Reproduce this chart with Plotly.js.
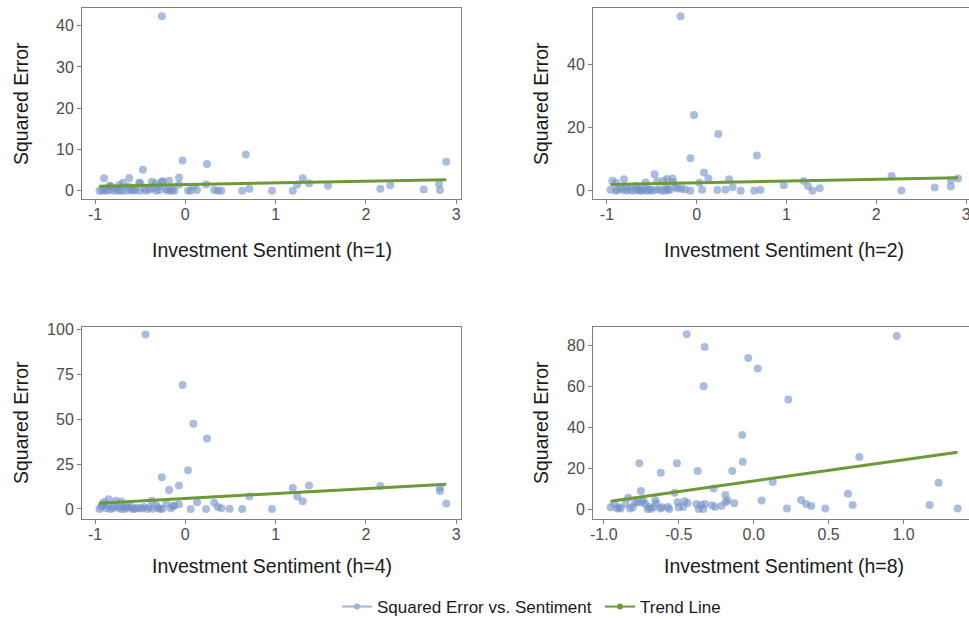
<!DOCTYPE html>
<html>
<head>
<meta charset="utf-8">
<script src="https://cdn.plot.ly/plotly-3.0.1.min.js"></script>
<style>
html, body { margin: 0; padding: 0; background: #ffffff; overflow: hidden; }
#chart { width: 976px; height: 630px; }
</style>
</head>
<body>
<div id="chart"></div>
<script>
// ---------------- DATA ----------------
const horizons = ["h=1", "h=2", "h=4", "h=8"];
const seriesName = "Squared Error vs. Sentiment";
const trendName = "Trend Line";

const x1 = [-0.26, -0.90, -0.62, -0.47, -0.03, 0.24, 0.67, 2.89, -0.07, -0.37,
            -0.26, -0.18, -0.50, -0.69, -0.73, -0.84, -0.33, -0.07, 0.23, 1.30,
            1.24, 1.37, 1.58, 2.27, 2.16, 2.64, 2.81, 2.82, 0.71, 0.63,
            0.96, 1.19, 0.32, 0.36, 0.40, 0.13, 0.09, 0.03, 0.06, -0.12,
            -0.16, -0.20, -0.21, -0.29, -0.32, -0.39, -0.43, -0.50, -0.55, -0.59,
            -0.65, -0.70, -0.75, -0.80, -0.88, -0.92, -0.95, -0.78, -0.61, -0.63,
            -0.25, -0.51, -0.83, -0.85, -0.72, -0.57, -0.45, -0.35, -0.28, -0.14,
            -0.90];
const y1 = [42.3, 3.0, 3.1, 5.1, 7.3, 6.5, 8.8, 7.0, 3.2, 2.2,
            2.2, 2.4, 1.8, 1.9, 1.4, 1.1, 1.8, 1.5, 1.5, 3.0,
            1.5, 1.8, 1.2, 1.3, 0.5, 0.3, 1.6, 0.2, 0.5, 0.0,
            0.0, 0.0, 0.2, 0.0, 0.0, 0.2, 1.0, 0.0, 0.0, 0.0,
            0.0, 0.0, 0.4, 1.0, 0.0, 0.3, 0.0, 0.0, 0.1, 0.0,
            0.0, 0.0, 0.0, 0.0, 0.0, 0.0, 0.0, 0.5, 0.4, 1.0,
            2.3, 1.9, 1.2, 0.1, 0.2, 0.3, 0.5, 0.6, 0.2, 0.3,
            0.5];

const x2 = [-0.18, -0.03, 0.24, 0.67, -0.07, -0.47, 0.08, 0.13, 0.36, 2.17,
            2.91, 2.83, 2.83, 2.65, 2.28, 1.19, 1.24, 1.29, 1.37, 0.97,
            0.71, 0.64, 0.49, 0.40, 0.32, 0.23, 0.06, 0.03, -0.07, -0.13,
            -0.17, -0.21, -0.27, -0.33, -0.26, -0.37, -0.44, -0.34, -0.32, -0.35,
            -0.46, -0.57, -0.81, -0.94, -0.90, -0.96, -0.90, -0.85, -0.78, -0.74,
            -0.71, -0.67, -0.63, -0.59, -0.56, -0.52, -0.50, -0.39, -0.68, -0.78,
            -0.88, -0.82, -0.65, -0.61, -0.54, -0.42, -0.30, -0.24];
const y2 = [55.4, 24.0, 18.0, 11.2, 10.3, 5.2, 5.8, 3.9, 3.6, 4.7,
            3.9, 3.3, 1.3, 1.0, 0.1, 3.1, 1.4, 0.0, 0.8, 1.7,
            0.2, 0.0, 0.0, 1.1, 0.3, 0.2, 0.3, 2.5, 0.0, 0.4,
            0.6, 0.7, 3.9, 3.7, 2.7, 3.2, 3.0, 1.3, 0.4, 0.0,
            0.2, 2.6, 3.6, 3.2, 2.5, 0.3, 0.0, 0.7, 0.0, 0.4,
            0.0, 0.2, 0.0, 0.6, 0.0, 0.4, 0.0, 0.0, 1.5, 1.1,
            0.3, 0.2, 0.5, 0.1, 0.3, 0.5, 0.2, 1.0];

const x3 = [-0.44, -0.03, 0.09, 0.24, 0.03, -0.26, -0.18, -0.07, 1.19, 1.37,
            1.24, 1.30, 0.71, 2.16, 2.82, 2.82, 2.89, 0.96, 0.63, 0.49,
            0.40, 0.36, 0.32, 0.23, 0.13, 0.06, -0.07, -0.12, -0.16, -0.21,
            -0.25, -0.32, -0.37, -0.36, -0.42, -0.46, -0.50, -0.54, -0.58, -0.63,
            -0.67, -0.71, -0.77, -0.71, -0.74, -0.80, -0.85, -0.90, -0.83, -0.88,
            -0.93, -0.95, -0.65, -0.60, -0.56, -0.48, -0.40, -0.30, -0.69, -0.78,
            -0.86, -0.92, -0.14, -0.28];
const y3 = [97.0, 68.9, 47.4, 39.1, 21.5, 17.6, 10.6, 13.0, 11.7, 13.0,
            7.0, 4.3, 7.0, 12.8, 11.7, 10.0, 3.0, 0.0, 0.0, 0.2,
            0.4, 1.1, 3.5, 0.0, 3.7, 0.0, 2.6, 2.0, 0.4, 3.0,
            0.2, 1.9, 4.6, 0.2, 0.0, 1.1, 0.4, 0.7, 0.0, 0.7,
            0.0, 4.1, 4.6, 0.0, 0.7, 0.4, 5.4, 3.9, 0.0, 0.4,
            1.3, 0.0, 1.3, 1.2, 0.2, 0.3, 1.0, 0.5, 1.0, 1.5,
            1.8, 2.5, 1.5, 0.0];

const x4 = [-0.447, -0.327, 0.954, -0.036, 0.027, -0.334, 0.231, -0.076, 0.705, -0.073,
            -0.763, -0.512, -0.620, -0.374, -0.143, 0.127, 1.234, 0.629, 0.660, 1.174,
            1.361, 0.478, 0.384, 0.350, 0.316, 0.222, 0.053, -0.189, -0.175, -0.187,
            -0.130, -0.267, -0.215, -0.258, -0.278, -0.325, -0.337, -0.351, -0.366, -0.382,
            -0.441, -0.461, -0.470, -0.500, -0.508, -0.527, -0.563, -0.572, -0.610, -0.622,
            -0.650, -0.657, -0.666, -0.686, -0.697, -0.708, -0.723, -0.736, -0.752, -0.748,
            -0.776, -0.792, -0.807, -0.825, -0.837, -0.854, -0.888, -0.899, -0.910, -0.930,
            -0.954];
const y4 = [85.6, 79.4, 84.8, 74.0, 68.8, 60.1, 53.7, 36.3, 25.5, 23.2,
            22.4, 22.4, 17.8, 18.6, 18.6, 13.2, 12.9, 7.5, 2.0, 2.0,
            0.3, 0.2, 1.5, 2.5, 4.4, 0.3, 4.2, 6.9, 4.2, 3.3,
            2.8, 10.0, 1.5, 1.0, 1.8, 2.5, 0.0, 2.0, 0.0, 2.5,
            2.9, 3.8, 1.0, 0.8, 3.3, 8.0, 0.0, 1.0, 0.8, 0.3,
            2.8, 4.4, 0.8, 0.0, 1.0, 0.0, 2.5, 4.2, 8.8, 3.3,
            3.3, 3.1, 0.8, 0.3, 5.5, 2.6, 0.3, 0.8, 0.3, 2.6,
            0.8];

// trend line end points
const trendX1 = [-0.955, 2.89], trendY1 = [1.07, 2.67];
const trendX2 = [-0.96, 2.91],  trendY2 = [2.0, 4.1];
const trendX3 = [-0.955, 2.89], trendY3 = [3.2, 13.8];
const trendX4 = [-0.955, 1.36], trendY4 = [3.8, 27.8];

// tick values and labels
const xTickVals123 = [-1, 0, 1, 2, 3];
const xTickText123 = ["-1", "0", "1", "2", "3"];
const xTickVals4 = [-1.0, -0.5, 0.0, 0.5, 1.0];
const xTickText4 = ["-1.0", "-0.5", "0.0", "0.5", "1.0"];
const yTickVals1 = [0, 10, 20, 30, 40];
const yTickVals2 = [0, 20, 40];
const yTickVals3 = [0, 25, 50, 75, 100];
const yTickVals4 = [0, 20, 40, 60, 80];

// ---------------- STYLE ----------------
// the figure is slightly larger than the 969x619 window; the overflow is clipped,
// like the cut-off right edge of the reference
const W = 976, H = 630;
const fx = px => px / W;
const fy = py => 1 - py / H;
const FONT = "Liberation Sans, Arial, Helvetica, sans-serif";
const pointColor = "rgba(115,145,200,0.6)";
const legendPointColor = "rgb(155,180,218)";
const trendColor = "#6b9a36";
const axisGray = "#7f7f7f";

function scatterTrace(x, y, xa, ya) {
  return { type: "scatter", mode: "markers", x: x, y: y, xaxis: xa, yaxis: ya,
           marker: { size: 8, color: pointColor, line: { width: 0 } },
           showlegend: false, hoverinfo: "x+y", name: seriesName };
}
function trendTrace(x, y, xa, ya) {
  return { type: "scatter", mode: "lines", x: x, y: y, xaxis: xa, yaxis: ya,
           line: { color: trendColor, width: 3 }, showlegend: false, name: trendName };
}

const data = [
  scatterTrace(x1, y1, "x", "y"),   trendTrace(trendX1, trendY1, "x", "y"),
  scatterTrace(x2, y2, "x2", "y2"), trendTrace(trendX2, trendY2, "x2", "y2"),
  scatterTrace(x3, y3, "x3", "y3"), trendTrace(trendX3, trendY3, "x3", "y3"),
  scatterTrace(x4, y4, "x4", "y4"), trendTrace(trendX4, trendY4, "x4", "y4"),
  { type: "scatter", mode: "lines+markers", x: [null], y: [null], name: seriesName,
    legend: "legend", showlegend: true, xaxis: "x", yaxis: "y",
    line: { color: legendPointColor, width: 2 }, marker: { color: legendPointColor, size: 6 } },
  { type: "scatter", mode: "lines+markers", x: [null], y: [null], name: trendName,
    legend: "legend2", showlegend: true, xaxis: "x", yaxis: "y",
    line: { color: trendColor, width: 2 }, marker: { color: trendColor, size: 6 } }
];

function axis(domain, range, tickvals, ticktext, anchor, standoff) {
  const a = { domain: domain, range: range, anchor: anchor,
    showline: true, mirror: true, linecolor: axisGray, linewidth: 1,
    ticks: "outside", ticklen: 4, tickcolor: axisGray, tickwidth: 1,
    showgrid: false, zeroline: false, fixedrange: true,
    ticklabelstandoff: standoff,
    tickfont: { family: FONT, size: 16, color: "#4d4d4d" },
    tickvals: tickvals };
  if (ticktext) a.ticktext = ticktext;
  return a;
}

const leftDom = [fx(82), fx(461)];
const rightDom = [fx(593), fx(974)];
const topDom = [fy(199), fy(8.3)];
const botDom = [fy(519), fy(326.7)];

const titleFont = { family: FONT, size: 19.5, color: "#1a1a1a" };
function xTitle(text, px, py) {
  return { text: text, xref: "paper", yref: "paper", x: fx(px), y: fy(py),
           xanchor: "center", yanchor: "middle", showarrow: false, font: titleFont };
}
function yTitle(text, px, py) {
  return { text: text, xref: "paper", yref: "paper", x: fx(px), y: fy(py), textangle: -90,
           xanchor: "center", yanchor: "middle", showarrow: false, font: titleFont };
}

const layout = {
  width: W, height: H,
  margin: { l: 0, r: 0, t: 0, b: 0 },
  paper_bgcolor: "#ffffff", plot_bgcolor: "#ffffff",
  font: { family: FONT },
  xaxis:  axis(leftDom,  [-1.144, 3.053], xTickVals123, xTickText123, "y", -3),
  yaxis:  axis(topDom,   [-2.01, 44.22],  yTickVals1, null, "x", 0),
  xaxis2: axis(rightDom, [-1.155, 3.088], xTickVals123, xTickText123, "y2", -3),
  yaxis2: axis(topDom,   [-2.63, 57.90],  yTickVals2, null, "x2", 0),
  xaxis3: axis(leftDom,  [-1.144, 3.053], xTickVals123, xTickText123, "y3", -3),
  yaxis3: axis(botDom,   [-5.56, 101.28], yTickVals3, null, "x3", 0),
  xaxis4: axis(rightDom, [-1.072, 1.470], xTickVals4, xTickText4, "y4", -3),
  yaxis4: axis(botDom,   [-4.90, 89.32],  yTickVals4, null, "x4", 0),
  annotations: [
    xTitle("Investment Sentiment (" + horizons[0] + ")", 272, 250),
    xTitle("Investment Sentiment (" + horizons[1] + ")", 784, 250),
    xTitle("Investment Sentiment (" + horizons[2] + ")", 272, 566),
    xTitle("Investment Sentiment (" + horizons[3] + ")", 784, 566),
    yTitle("Squared Error", 21, 104),
    yTitle("Squared Error", 541, 104),
    yTitle("Squared Error", 21, 423),
    yTitle("Squared Error", 541, 423)
  ],
  legend:  { x: fx(337), y: fy(607), xanchor: "left", yanchor: "middle", orientation: "h",
             bgcolor: "rgba(0,0,0,0)", font: { family: FONT, size: 17, color: "#1a1a1a" } },
  legend2: { x: fx(600), y: fy(607), xanchor: "left", yanchor: "middle", orientation: "h",
             bgcolor: "rgba(0,0,0,0)", font: { family: FONT, size: 17, color: "#1a1a1a" } },
  showlegend: true
};

Plotly.newPlot("chart", data, layout, { displayModeBar: false, staticPlot: true });
</script>
</body>
</html>
